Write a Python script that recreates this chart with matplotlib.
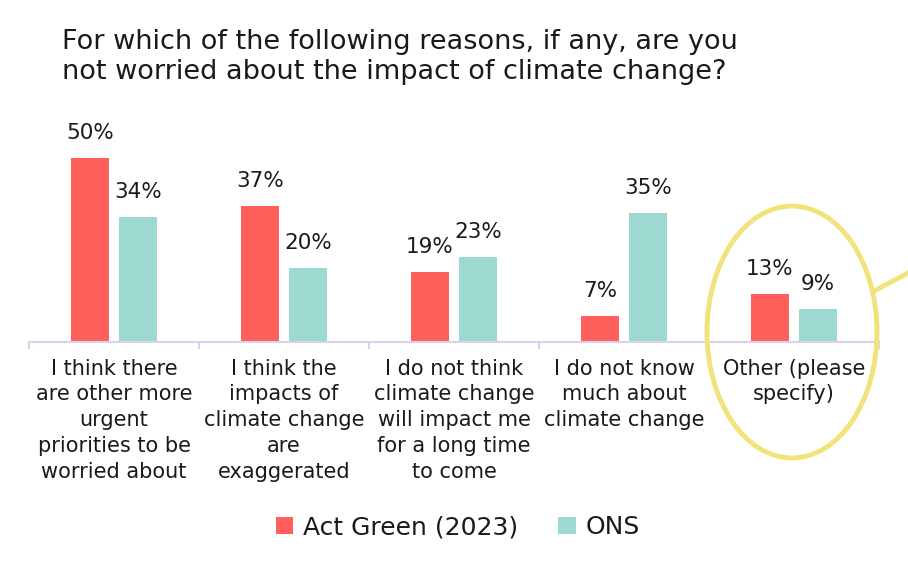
import matplotlib
matplotlib.use("Agg")
import matplotlib.pyplot as plt
from matplotlib.patches import Ellipse
from matplotlib.lines import Line2D
import numpy as np

RED = "#FF605C"
TEAL = "#9DD9D1"
AXIS = "#D9D2EF"
YELLOW = "#F2E27B"
TEXT = "#1A1A1A"

plt.rcParams["font.family"] = ["DejaVu Sans"]

categories = [
    "I think there\nare other more\nurgent\npriorities to be\nworried about",
    "I think the\nimpacts of\nclimate change\nare\nexaggerated",
    "I do not think\nclimate change\nwill impact me\nfor a long time\nto come",
    "I do not know\nmuch about\nclimate change",
    "Other (please\nspecify)",
]
act_green = [50, 37, 19, 7, 13]
ons = [34, 20, 23, 35, 9]
series_names = ["Act Green (2023)", "ONS"]

W, H = 908, 565
fig = plt.figure(figsize=(W / 100, H / 100), dpi=100)
ax = fig.add_axes([29 / W, (H - 342) / H, 850 / W, 220.8 / H])

x = np.arange(len(categories))
bw = 38 / 170
off = 24 / 170
b1 = ax.bar(x - off, act_green, bw, color=RED, label=series_names[0])
b2 = ax.bar(x + off, ons, bw, color=TEAL, label=series_names[1])

for bars, vals in [(b1, act_green), (b2, ons)]:
    for r, v in zip(bars, vals):
        ax.annotate(f"{v}%", (r.get_x() + r.get_width() / 2, v),
                    xytext=(0, 11), textcoords="offset points",
                    ha="center", va="bottom", fontsize=15.5, color=TEXT)

ax.set_xlim(-0.5, len(categories) - 0.5)
ax.set_ylim(0, 60)
ax.set_yticks([])
for s in ["top", "right", "left"]:
    ax.spines[s].set_visible(False)
ax.spines["bottom"].set_color(AXIS)
ax.spines["bottom"].set_linewidth(1.5)

ax.set_xticks(x)
ax.set_xticklabels(categories, fontsize=15, color=TEXT, linespacing=1.36)
ax.tick_params(axis="x", which="major", length=0, pad=12)
ax.set_xticks(np.arange(len(categories) + 1) - 0.5, minor=True)
ax.tick_params(axis="x", which="minor", length=5, width=1.5, color=AXIS)

fig.text(62 / W, 1 - 57 / H,
         "For which of the following reasons, if any, are you\nnot worried about the impact of climate change?",
         fontsize=19.5, color=TEXT, va="center", ha="left", linespacing=1.2)

# highlight around "Other"
ell = Ellipse((792 / W, 1 - 332 / H), 170 / W, 252 / H, transform=fig.transFigure,
              fill=False, edgecolor=YELLOW, linewidth=3.5, clip_on=False)
fig.patches.append(ell)
fig.lines.append(Line2D([876 / W, 1.0], [1 - 290 / H, 1 - 273 / H],
                        transform=fig.transFigure, color=YELLOW, linewidth=3.5))

fig.legend(handles=[b1, b2], loc="center", bbox_to_anchor=(458 / W, 1 - 527 / H),
           ncol=2, frameon=False, fontsize=18, handlelength=0.7, handleheight=0.7,
           handletextpad=0.4, columnspacing=1.6, labelcolor=TEXT)

fig.savefig("out.png", dpi=100)
